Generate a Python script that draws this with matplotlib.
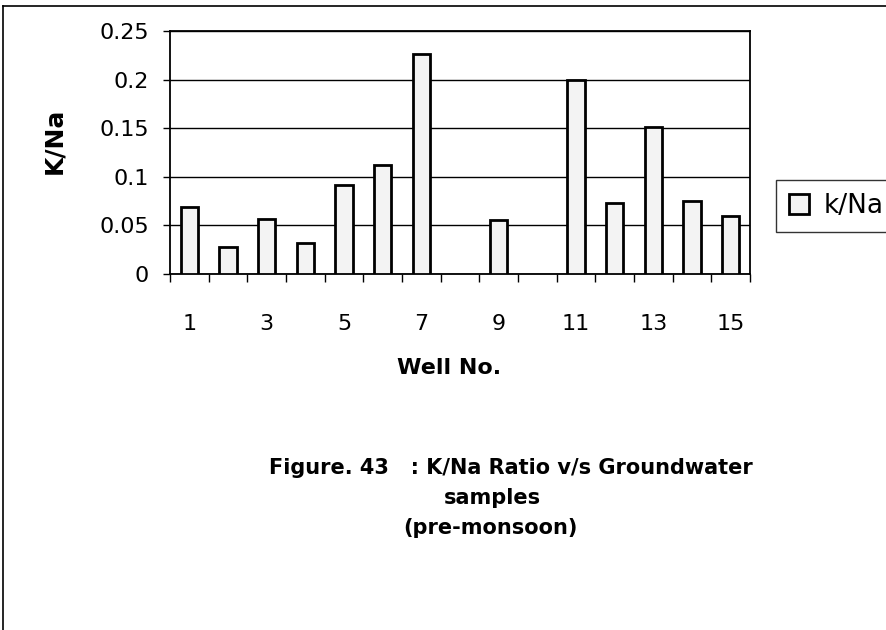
import numpy as np
import matplotlib
matplotlib.use("Agg")
import matplotlib.pyplot as plt
from matplotlib.lines import Line2D

plt.rcParams['font.family'] = ['DejaVu Sans']

# K/Na ratio for each well (wells 8 and 10 have no value)
wells = list(range(1, 16))
k_na = [0.069, 0.028, 0.057, 0.032, 0.092, 0.112, 0.226, None,
        0.056, None, 0.200, 0.073, 0.151, 0.075, 0.060]
x_labels = ['1', '3', '5', '7', '9', '11', '13', '15']
y_ticks = [0, 0.05, 0.1, 0.15, 0.2, 0.25]
y_labels = ['0', '0.05', '0.1', '0.15', '0.2', '0.25']

W, H = 887, 630
fig = plt.figure(figsize=(W / 100, H / 100), dpi=100)
fig.patch.set_facecolor('white')

ax = fig.add_axes([170 / W, 1 - 274 / H, 580 / W, 243 / H])

xs = [w for w, v in zip(wells, k_na) if v is not None]
vs = [v for v in k_na if v is not None]
ax.bar(xs, vs, width=0.45, facecolor='#f3f3f3', edgecolor='black',
       linewidth=2.0, zorder=3, label='k/Na')

ax.set_xlim(0.5, 15.5)
ax.set_ylim(0, 0.25)
ax.set_yticks(y_ticks)
ax.set_yticklabels(y_labels, fontsize=16)
ax.yaxis.grid(True, color='black', linewidth=1.0, zorder=1)
ax.set_axisbelow(True)

# boundary ticks between categories, labels at odd wells
ax.set_xticks(np.arange(0.5, 16, 1))
ax.set_xticklabels([])
ax.tick_params(axis='x', which='major', direction='out', length=6, width=1)
ax.set_xticks([int(s) for s in x_labels], minor=True)
ax.set_xticklabels(x_labels, minor=True, fontsize=16)
ax.tick_params(axis='x', which='minor', length=0, pad=29)
ax.tick_params(axis='y', direction='out', length=5, width=1, pad=10)

for s in ax.spines.values():
    s.set_linewidth(1.3)
    s.set_color('black')

fig.text(54 / W, 1 - 141 / H, 'K/Na', rotation=90, ha='center', va='center',
         fontsize=18, fontweight='bold')
fig.text(449 / W, 1 - 368 / H, 'Well No.', ha='center', va='center',
         fontsize=16, fontweight='bold')

leg = fig.legend(loc='upper left', bbox_to_anchor=(776 / W, 1 - 180 / H),
                 fontsize=19, frameon=True, fancybox=False, edgecolor='black',
                 handlelength=0.75, handleheight=0.75, handletextpad=0.55,
                 borderpad=0.5, borderaxespad=0)
leg.get_frame().set_linewidth(1.0)

cap_kw = dict(ha='center', va='center', fontsize=15, fontweight='bold')
fig.text(511 / W, 1 - 468 / H, 'Figure. 43   : K/Na Ratio v/s Groundwater', **cap_kw)
fig.text(492 / W, 1 - 498 / H, 'samples', **cap_kw)
fig.text(490 / W, 1 - 528 / H, '(pre-monsoon)', **cap_kw)

# chart area border (top and left edges)
fig.add_artist(Line2D([3 / W, 1], [1 - 6 / H, 1 - 6 / H], transform=fig.transFigure,
                      color='black', linewidth=1.2))
fig.add_artist(Line2D([3 / W, 3 / W], [0, 1 - 6 / H], transform=fig.transFigure,
                      color='black', linewidth=1.2))

fig.savefig('out.png', dpi=100)
